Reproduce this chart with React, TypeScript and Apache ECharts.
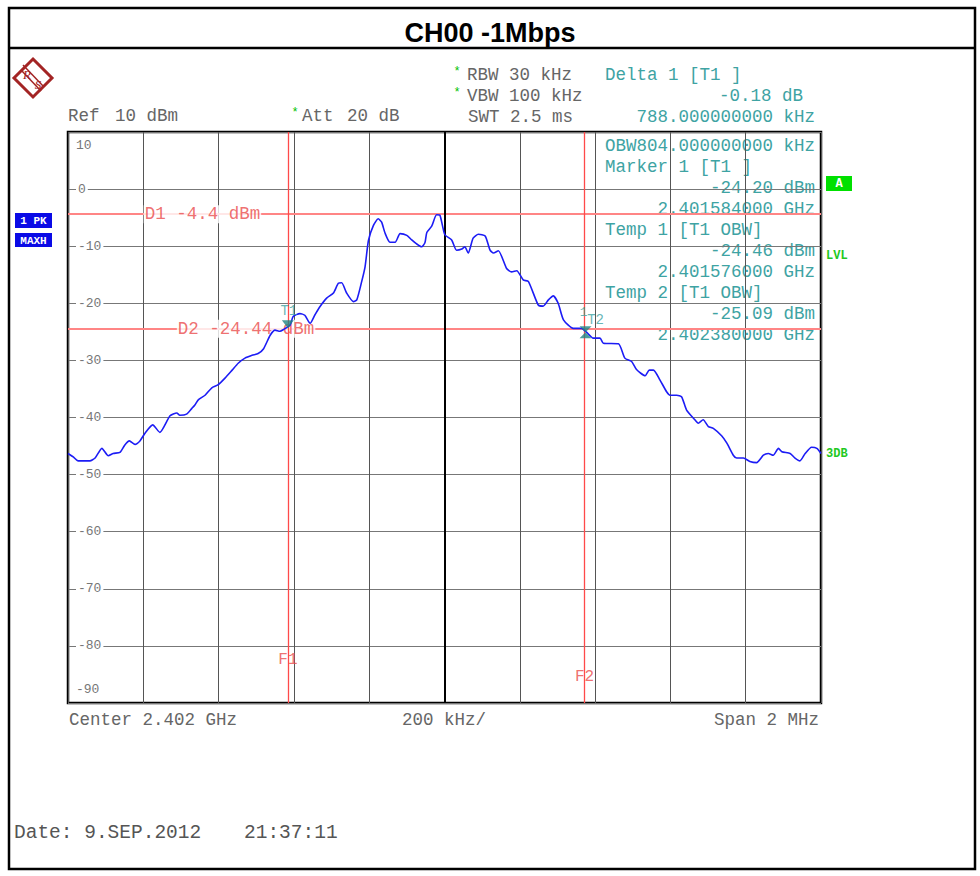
import React, { useEffect, useRef } from "react";
import * as echarts from "echarts";

// ---------- data ----------
const chartTitle = "CH00 -1Mbps";

// trace: frequency offset from centre (kHz) and level (dBm)
const freqKHz = [
  -1000, -986, -973, -942, -928, -910, -893, -880, -862, -849, -837, -822, -809, -795, -775, -756,
  -729, -711, -703, -685, -671, -663, -654, -636, -618, -602, -583, -564, -548, -530, -511, -495,
  -481, -463, -450, -437, -428, -410, -402, -384, -371, -357, -344, -331, -313, -295, -282, -273,
  -260, -242, -233, -220, -211, -202, -189, -176, -167, -158, -145, -131, -118, -100, -87, -74,
  -61, -52, -47, -34, -21, -12, 1, 19, 32, 46, 54, 63, 76, 90, 108, 121,
  130, 143, 165, 178, 192, 209, 223, 249, 262, 276, 289, 302, 316, 342, 364, 378,
  395, 413, 422, 462, 479, 497, 510, 533, 544, 555, 572, 590, 599, 617, 630, 643,
  665, 674, 687, 701, 714, 736, 750, 767, 776, 794, 811, 829, 847, 860, 873, 887,
  896, 918, 931, 944, 958, 975, 989, 1000,
];
const levelDbm = [
  -46.3, -46.9, -47.6, -47.6, -47.1, -45.4, -46.7, -46.3, -46.1, -44.8, -44.1, -44.7, -44.1, -42.7, -41.3, -42.6,
  -39.7, -39.2, -39.6, -39.4, -38.4, -37.8, -36.9, -36.1, -34.8, -34.3, -33.1, -31.7, -30.5, -29.6, -29.1, -28.8,
  -28.0, -25.6, -24.7, -24.9, -24.6, -23.8, -22.3, -21.8, -22.1, -23.5, -22.0, -20.6, -19.1, -18.2, -16.5, -16.4,
  -18.2, -19.7, -19.4, -16.2, -13.6, -9.0, -6.4, -5.2, -5.8, -7.7, -9.3, -9.3, -7.8, -8.1, -8.9, -9.6,
  -10.1, -9.4, -7.6, -6.5, -4.5, -4.6, -8.0, -8.9, -10.7, -10.5, -10.1, -11.2, -8.6, -7.9, -8.2, -10.7,
  -11.2, -10.8, -13.9, -14.5, -14.3, -15.9, -16.2, -20.3, -20.5, -19.4, -18.7, -20.0, -22.9, -24.4, -24.4, -25.1,
  -26.1, -26.1, -27.0, -27.1, -29.6, -30.2, -31.6, -32.7, -31.7, -31.7, -33.4, -35.5, -36.1, -36.1, -36.4, -38.7,
  -40.4, -41.0, -40.4, -41.6, -41.9, -43.2, -44.5, -46.6, -47.1, -47.1, -47.7, -47.9, -46.6, -46.3, -46.6, -45.4,
  -46.0, -46.3, -47.1, -47.6, -46.3, -45.2, -45.4, -46.3,
];

// display lines (dBm) and frequency lines (kHz offset)
const displayLineNames = ["D1 -4.4 dBm", "D2 -24.44 dBm"];
const displayLineValues = [-4.4, -24.44];
const displayLabelFreq = [-643, -527];
const freqLineNames = ["F1", "F2"];
const freqLineValues = [-416, 372];
const freqLabelLevel = [-82.5, -85.4];

// markers
const markerT1 = [-416, -24.2];
const markerDelta = [372, -24.38];

// header and info texts
const headerRows = ["RBW 30 kHz", "VBW 100 kHz", "SWT 2.5 ms"];
const deltaRows = ["Delta 1 [T1 ]", "-0.18 dB", "788.000000000 kHz"];
const infoRows = [
  "OBW804.000000000 kHz",
  "Marker 1 [T1 ]",
  "-24.20 dBm",
  "2.401584000 GHz",
  "Temp 1 [T1 OBW]",
  "-24.46 dBm",
  "2.401576000 GHz",
  "Temp 2 [T1 OBW]",
  "-25.09 dBm",
  "2.402380000 GHz",
];
const infoAlign = ["left", "left", "right", "right", "left", "right", "right", "left", "right", "right"];
const footerTexts = ["Center 2.402 GHz", "200 kHz/", "Span 2 MHz"];
const dateTexts = ["Date: 9.SEP.2012", "21:37:11"];

const MONO = '"Liberation Mono", "DejaVu Sans Mono", monospace';
const TEAL = "#3ea3a3";
const GRAY = "#666";
const RED = "#ea4b4b";
const LOGO = "#a32424";

function txt(text: string, x: number, y: number, extra: any = {}) {
  return {
    type: "text",
    x,
    y,
    silent: true,
    style: {
      text,
      font: `17.5px ${MONO}`,
      fill: GRAY,
      textAlign: "left",
      textVerticalAlign: "middle",
      ...extra,
    },
  };
}

export default function App() {
  const ref = useRef<HTMLDivElement>(null);

  useEffect(() => {
    if (!ref.current) return;
    const chart = echarts.init(ref.current, undefined, { renderer: "svg" });

    const graphic: any[] = [
      // outer frame and title separator
      { type: "rect", shape: { x: 9, y: 8, width: 966, height: 861 }, style: { fill: "none", stroke: "#000", lineWidth: 2.5 }, silent: true },
      { type: "line", shape: { x1: 9, y1: 48, x2: 975, y2: 48 }, style: { stroke: "#000", lineWidth: 2.5 }, silent: true },
      // logo
      { type: "polygon", shape: { points: [[33, 59], [52, 78], [33, 97], [14, 78]] }, style: { fill: "none", stroke: LOGO, lineWidth: 3 }, silent: true },
      { type: "line", shape: { x1: 23, y1: 65, x2: 44, y2: 87 }, style: { stroke: LOGO, lineWidth: 1.5 }, silent: true },
      { type: "line", shape: { x1: 21, y1: 70, x2: 41, y2: 91 }, style: { stroke: LOGO, lineWidth: 1.5 }, silent: true },
      txt("R", 27, 74, { font: `italic 13px "Liberation Serif", serif`, fill: LOGO, textAlign: "center" }),
      txt("S", 38, 84, { font: `italic 13px "Liberation Serif", serif`, fill: LOGO, textAlign: "center" }),
      // Ref / Att
      txt("Ref", 68, 116),
      txt("10 dBm", 115, 116),
      txt("*", 295, 113, { fill: "#00c000", font: `12px ${MONO}`, textAlign: "center" }),
      txt("Att", 302, 116),
      txt("20 dB", 347, 116),
      // RBW / VBW / SWT
      txt("*", 457, 72, { fill: "#00c000", font: `12px ${MONO}`, textAlign: "center" }),
      txt("*", 457, 93, { fill: "#00c000", font: `12px ${MONO}`, textAlign: "center" }),
      txt(headerRows[0], 467, 75),
      txt(headerRows[1], 467, 96),
      txt(headerRows[2], 468, 117),
      // delta block
      txt(deltaRows[0], 605, 75, { fill: TEAL }),
      txt(deltaRows[1], 803, 96, { fill: TEAL, textAlign: "right" }),
      txt(deltaRows[2], 815, 117, { fill: TEAL, textAlign: "right" }),
      // trace labels
      { type: "rect", shape: { x: 15, y: 213, width: 37, height: 15 }, style: { fill: "#0a0ae6" }, silent: true },
      txt("1 PK", 33.5, 221, { fill: "#fff", font: `bold 11px ${MONO}`, textAlign: "center" }),
      { type: "rect", shape: { x: 15, y: 233, width: 37, height: 14 }, style: { fill: "#0a0ae6" }, silent: true },
      txt("MAXH", 33.5, 240.5, { fill: "#fff", font: `bold 11px ${MONO}`, textAlign: "center" }),
      // right side flags
      { type: "rect", shape: { x: 826, y: 176, width: 26, height: 15 }, style: { fill: "#00e000" }, silent: true },
      txt("A", 839, 184, { fill: "#fff", font: `bold 12px ${MONO}`, textAlign: "center" }),
      txt("LVL", 826, 256, { fill: "#22c822", font: `bold 12px ${MONO}` }),
      txt("3DB", 826, 454, { fill: "#22c822", font: `bold 12px ${MONO}` }),
      // footer
      txt(footerTexts[0], 69, 720),
      txt(footerTexts[1], 444, 720, { textAlign: "center" }),
      txt(footerTexts[2], 819, 720, { textAlign: "right" }),
      txt(dateTexts[0], 14, 833, { font: `19.5px ${MONO}`, fill: "#555" }),
      txt(dateTexts[1], 244, 833, { font: `19.5px ${MONO}`, fill: "#555" }),
    ];
    infoRows.forEach((r, i) => {
      const right = infoAlign[i] === "right";
      graphic.push(txt(r, right ? 815 : 605, 146 + i * 21, { fill: TEAL, textAlign: right ? "right" : "left" }));
    });

    const option: any = {
      animation: false,
      backgroundColor: "#fff",
      title: {
        text: chartTitle,
        left: "center",
        top: 14,
        textStyle: { fontFamily: '"Liberation Sans", Arial, sans-serif', fontWeight: "bold", fontSize: 27, color: "#000" },
      },
      grid: { left: 68, top: 132, width: 753, height: 571, show: true, borderColor: "#000", borderWidth: 2.5, backgroundColor: "transparent" },
      xAxis: {
        type: "value",
        min: -1000,
        max: 1000,
        interval: 200,
        axisLine: { show: false },
        axisTick: { show: false },
        axisLabel: { show: false },
        splitLine: { show: true, lineStyle: { color: "#555", width: 1 } },
      },
      yAxis: {
        type: "value",
        min: -90,
        max: 10,
        interval: 10,
        axisLine: { show: false },
        axisTick: { show: false },
        splitLine: { show: true, lineStyle: { color: "#777", width: 1.2 } },
        axisLabel: {
          inside: true,
          margin: 8,
          color: "#777",
          fontFamily: MONO,
          fontSize: 13,
          verticalAlignMaxLabel: "top",
          verticalAlignMinLabel: "bottom",
          formatter: (v: number) => (v === 10 ? `{t|${v}}` : v === -90 ? `{m|${v}}` : `{b|${v}}`),
          rich: {
            b: { backgroundColor: "#fff", padding: [1, 2, 1, 2], color: "#777", fontFamily: MONO, fontSize: 13 },
            t: { padding: [7, 0, 0, 0], color: "#777", fontFamily: MONO, fontSize: 13 },
            m: { padding: [0, 0, 7, 0], color: "#777", fontFamily: MONO, fontSize: 13 },
          },
        },
      },
      series: [
        {
          name: "refLines",
          type: "line",
          data: [],
          z: 1,
          silent: true,
          markLine: {
            z: 1,
            silent: true,
            symbol: ["none", "none"],
            label: { show: false },
            lineStyle: { color: "#ff8585", width: 2, type: "solid" },
            data: displayLineValues.map((v) => ({ yAxis: v })),
          },
        },
        {
          name: "refLabels",
          type: "scatter",
          z: 2,
          silent: true,
          symbolSize: 0,
          data: displayLineNames.map((n, i) => ({ value: [displayLabelFreq[i], displayLineValues[i]], name: n })),
          label: {
            show: true,
            position: "inside",
            formatter: (p: any) => p.name,
            color: RED,
            fontFamily: MONO,
            fontSize: 17.5,
            backgroundColor: "#fff",
            padding: [0, 1],
          },
        },
        {
          name: "centreLine",
          type: "line",
          data: [],
          z: 3,
          silent: true,
          markLine: {
            z: 3,
            silent: true,
            symbol: ["none", "none"],
            label: { show: false },
            lineStyle: { color: "#000", width: 2, type: "solid" },
            data: [{ xAxis: 0 }],
          },
        },
        {
          name: "freqLines",
          type: "line",
          data: [],
          z: 3,
          silent: true,
          markLine: {
            z: 3,
            silent: true,
            symbol: ["none", "none"],
            label: { show: false },
            lineStyle: { color: "#ff4a4a", width: 1.3, type: "solid" },
            data: freqLineValues.map((v) => ({ xAxis: v })),
          },
        },
        {
          name: "freqLabels",
          type: "scatter",
          z: 3,
          silent: true,
          symbolSize: 0,
          data: freqLineNames.map((n, i) => ({ value: [freqLineValues[i], freqLabelLevel[i]], name: n })),
          label: { show: true, position: "inside", formatter: (p: any) => p.name, color: RED, fontFamily: MONO, fontSize: 16 },
        },
        {
          name: "trace",
          type: "line",
          z: 4,
          silent: true,
          showSymbol: false,
          smooth: 0.2,
          data: freqKHz.map((f, i) => [f, levelDbm[i]]),
          lineStyle: { color: "#1c1cf5", width: 1.6 },
        },
        {
          name: "markers",
          type: "scatter",
          z: 5,
          silent: true,
          itemStyle: { color: "#1f8585" },
          data: [
            {
              value: markerT1,
              symbol: "triangle",
              symbolRotate: 180,
              symbolSize: [12, 8],
              symbolOffset: [0, -3],
              label: { show: true, position: "top", distance: 0, offset: [1, -2], formatter: "T1", color: TEAL, fontFamily: MONO, fontSize: 14 },
            },
            {
              value: markerDelta,
              symbol: "path://M0,0L10,0L0,10L10,10Z",
              symbolSize: [12, 12],
              symbolOffset: [1, 4],
              label: { show: true, position: "top", distance: 0, offset: [10, 1], formatter: "T2", color: TEAL, fontFamily: MONO, fontSize: 14 },
            },
            {
              value: markerDelta,
              symbolSize: 0,
              label: { show: true, position: "inside", offset: [-1, -16], formatter: "1", color: TEAL, fontFamily: MONO, fontSize: 13 },
            },
          ],
        },
      ],
      graphic,
    };

    chart.setOption(option);
    return () => chart.dispose();
  }, []);

  return <div ref={ref} style={{ position: "absolute", left: 0, top: 0, width: 980, height: 876 }} />;
}
